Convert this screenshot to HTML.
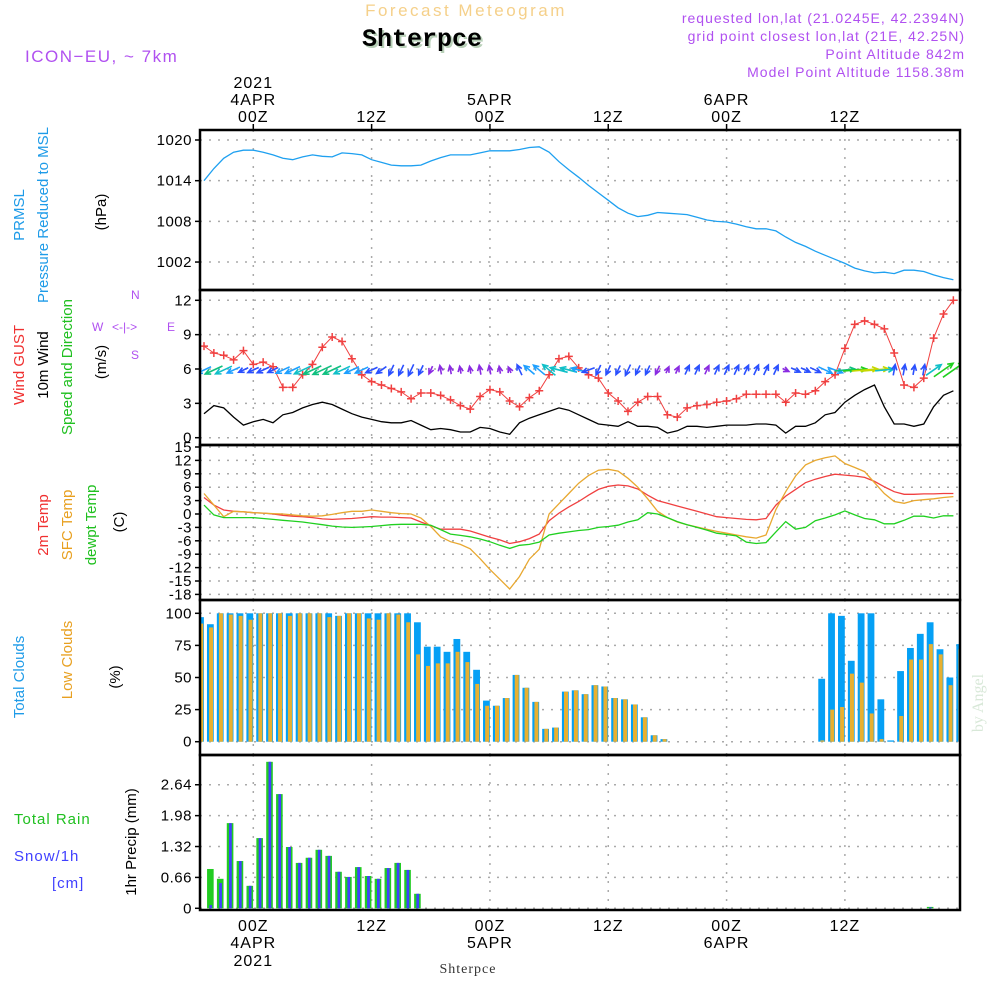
<!DOCTYPE html>
<html><head><meta charset="utf-8"><style>
body{margin:0;background:#fff;}
svg{display:block;font-family:"Liberation Sans",sans-serif;}
</style></head><body>
<svg id="chart" width="1000" height="1000" viewBox="0 0 1000 1000" xmlns="http://www.w3.org/2000/svg">
<g>
<text x="466" y="16" text-anchor="middle" font-size="17" fill="#f5d08a" letter-spacing="2.5">Forecast Meteogram</text>
<text x="424" y="48" text-anchor="middle" font-size="25" font-weight="bold" font-family="Liberation Mono,monospace" fill="#b8d0b8">Shterpce</text>
<text x="422" y="46" text-anchor="middle" font-size="25" font-weight="bold" font-family="Liberation Mono,monospace" fill="#000">Shterpce</text>
<text x="25" y="62" font-size="17" fill="#b050f0" letter-spacing="1.5">ICON−EU, ~ 7km</text>
<text x="965" y="23" text-anchor="end" font-size="14" fill="#b050f0" letter-spacing="1">requested lon,lat (21.0245E, 42.2394N)</text>
<text x="965" y="41" text-anchor="end" font-size="14" fill="#b050f0" letter-spacing="1">grid point closest lon,lat (21E, 42.25N)</text>
<text x="965" y="59" text-anchor="end" font-size="14" fill="#b050f0" letter-spacing="1">Point Altitude 842m</text>
<text x="965" y="77" text-anchor="end" font-size="14" fill="#b050f0" letter-spacing="1">Model Point Altitude 1158.38m</text>
</g>
<g font-size="15">
<text transform="translate(24,215) rotate(-90)" text-anchor="middle" fill="#1e9be8">PRMSL</text>
<text transform="translate(48,215) rotate(-90)" text-anchor="middle" fill="#1e9be8">Pressure Reduced to MSL</text>
<text transform="translate(106,212) rotate(-90)" text-anchor="middle" fill="#000">(hPa)</text>
<text transform="translate(24,365) rotate(-90)" text-anchor="middle" fill="#f03030">Wind GUST</text>
<text transform="translate(48,365) rotate(-90)" text-anchor="middle" fill="#000">10m Wind</text>
<text transform="translate(72,367) rotate(-90)" text-anchor="middle" fill="#20c020">Speed and Direction</text>
<text transform="translate(106,362) rotate(-90)" text-anchor="middle" fill="#000">(m/s)</text>
<g fill="#b050f0" font-size="12">
<text x="131" y="299">N</text>
<text x="92" y="331">W</text>
<text x="112" y="331">&lt;-|-&gt;</text>
<text x="167" y="331">E</text>
<text x="131" y="359">S</text>
</g>
<text transform="translate(48,525) rotate(-90)" text-anchor="middle" fill="#f03030">2m Temp</text>
<text transform="translate(72,525) rotate(-90)" text-anchor="middle" fill="#e8a020">SFC Temp</text>
<text transform="translate(96,525) rotate(-90)" text-anchor="middle" fill="#20c020">dewpt Temp</text>
<text transform="translate(124,522) rotate(-90)" text-anchor="middle" fill="#000">(C)</text>
<text transform="translate(24,677) rotate(-90)" text-anchor="middle" fill="#1e9be8">Total Clouds</text>
<text transform="translate(72,660) rotate(-90)" text-anchor="middle" fill="#e8a020">Low Clouds</text>
<text transform="translate(120,677) rotate(-90)" text-anchor="middle" fill="#000">(%)</text>
<text x="14" y="824" fill="#20c020" letter-spacing="1">Total  Rain</text>
<text x="14" y="861" fill="#4040ff" letter-spacing="1">Snow/1h</text>
<text x="52" y="888" fill="#4040ff" letter-spacing="1">[cm]</text>
<text transform="translate(136,842) rotate(-90)" text-anchor="middle" fill="#000">1hr Precip (mm)</text>
<text transform="translate(983,703) rotate(-90)" text-anchor="middle" fill="#d8e8d8" font-size="16" font-family="Liberation Serif,serif">by Angel</text>
</g>
<g id="plot"></g>
</svg>
<script>
const hours = []; for (let h = -5; h <= 71; h++) hours.push(h);
const pressure = [1014.0,1015.8,1017.3,1018.2,1018.5,1018.5,1018.2,1017.8,1017.3,1017.1,1017.5,1017.8,1017.6,1017.5,1018.1,1018.0,1017.8,1017.1,1016.7,1016.3,1016.2,1016.2,1016.3,1016.9,1017.4,1017.8,1017.8,1017.8,1018.1,1018.4,1018.4,1018.4,1018.6,1018.9,1019.0,1018.2,1016.8,1015.6,1014.5,1013.3,1012.2,1011.1,1010.0,1009.2,1008.7,1008.9,1009.3,1009.2,1009.1,1009.0,1008.6,1008.2,1008.0,1007.9,1007.6,1007.2,1006.9,1006.9,1006.6,1005.7,1004.9,1004.3,1003.6,1003.0,1002.4,1001.8,1001.1,1000.7,1000.4,1000.5,1000.3,1000.8,1000.8,1000.6,1000.1,999.7,999.4];
const gust = [8.0,7.4,7.2,6.8,7.6,6.4,6.6,6.2,4.4,4.4,5.5,6.4,7.9,8.8,8.4,6.9,5.5,4.9,4.6,4.3,4.0,3.4,3.9,3.9,3.7,3.3,2.8,2.5,3.6,4.2,4.0,3.2,2.7,3.5,4.1,5.5,6.9,7.1,6.1,5.5,5.2,3.9,3.2,2.3,3.1,3.6,3.6,2.0,1.8,2.6,2.8,2.9,3.1,3.2,3.4,3.8,3.8,3.8,3.8,3.1,3.9,3.8,4.1,4.9,5.5,7.8,9.9,10.2,9.9,9.5,7.4,4.6,4.4,5.2,8.7,10.8,12.0];
const wind10 = [2.1,2.8,2.6,1.8,1.1,1.4,1.6,1.3,2.0,2.2,2.6,2.9,3.1,2.9,2.5,2.1,1.8,1.6,1.4,1.3,1.3,1.5,1.1,0.7,0.8,0.7,0.5,0.5,0.9,0.8,0.5,0.3,1.3,1.7,2.0,2.3,2.6,2.4,2.0,1.6,1.2,1.1,1.0,1.4,1.0,1.0,0.9,0.4,0.6,1.0,1.0,0.9,1.0,1.1,1.1,1.1,1.2,1.2,1.1,0.4,1.0,1.0,1.3,2.0,2.2,3.1,3.7,4.2,4.6,2.7,1.2,1.2,1.0,1.2,2.7,3.7,4.1];
const windDir = [205,205,205,205,205,205,205,205,205,205,205,205,205,205,205,205,205,205,215,245,245,245,245,245,100,100,100,100,100,100,100,115,115,140,140,140,165,165,165,200,245,245,245,245,245,245,245,65,65,65,65,65,65,65,65,65,65,65,65,335,335,335,335,335,340,5,5,5,5,5,80,80,80,80,35,35,35];
const temp2m = [3.7,2.0,0.9,0.6,0.5,0.3,0.2,0,-0.3,-0.5,-0.6,-0.8,-1.1,-1.2,-1.1,-1.0,-0.8,-0.6,-0.7,-0.7,-0.8,-0.9,-1.8,-2.6,-3.4,-3.4,-3.4,-3.8,-4.5,-5.2,-5.8,-6.6,-6.2,-5.5,-4.5,-1.5,0.2,1.6,2.8,4.2,5.5,6.2,6.5,6.3,5.6,4.2,3.0,2.4,1.8,1.2,0.6,0,-0.6,-0.8,-1.0,-1.2,-1.3,-1.0,2.0,4.0,5.5,7.0,7.8,8.4,8.9,8.7,8.5,8.2,7.3,6.1,5.0,4.4,4.4,4.5,4.5,4.6,4.6];
const tempSfc = [4.6,2.0,-0.6,0.6,0.5,0.3,0.2,0.1,0,-0.2,-0.4,-0.5,-0.4,-0.1,0.3,0.6,0.6,0.9,0.6,0.3,0.1,0,-0.9,-2.8,-5.1,-6.2,-6.8,-7.8,-10,-12.4,-14.6,-16.8,-14,-10.1,-7.9,0,2.3,4.6,6.9,8.6,9.8,10,9.6,8.0,6.0,3.4,0.6,-0.8,-1.8,-2.4,-2.9,-3.4,-3.9,-4.3,-4.7,-5.1,-5.4,-4.7,1,5,8.5,11,12,12.6,13,11.3,10.4,9.5,7,4.6,2.8,2.4,3.0,3.2,3.4,3.7,3.9];
const dewpt = [2,-0.2,-0.8,-0.8,-0.8,-0.8,-1.0,-1.2,-1.4,-1.6,-1.8,-2.1,-2.4,-2.7,-2.9,-3.0,-2.9,-2.8,-2.6,-2.4,-2.3,-2.3,-2.3,-2.5,-3.5,-4.5,-4.8,-5.1,-5.6,-6.2,-7.0,-7.7,-7.0,-6.8,-6.3,-4.7,-4.3,-4.0,-3.7,-3.5,-3.0,-2.8,-2.5,-1.8,-1.3,0.3,0,-0.8,-1.7,-2.4,-3.0,-3.6,-4.3,-4.6,-4.9,-6.3,-6.6,-6.4,-4.0,-1.7,-3.4,-3.0,-1.5,-0.9,-0.2,0.7,-0.2,-1.0,-1.3,-2.2,-2.2,-1.4,-0.5,-0.5,-0.9,-0.4,-0.4];
const cloudHours = []; for (let h = -5; h <= 72; h++) cloudHours.push(h);
const totalClouds = [97,91.5,100,100,100,100,100,100,100,100,100,100,100,100,98,100,100,100,100,100,100,100,93,74,74,70,80,70,56,32,28,34,52,42,31,10,11,39,40,37,44,43,34,33,29,19,5,2,0,0,0,0,0,0,0,0,0,0,0,0,0,0,0,49,100,98,63,100,100,33,1,55,73,84,93,72,50,76];
const lowClouds = [92,89,100,99,98,95,100,100,100,98,100,100,100,97,98,100,100,96,95,100,99,93,68,59,61,61,70,62,45,28,28,34,52,42,31,10,11,39,40,37,44,43,34,33,29,19,5,2,0,0,0,0,0,0,0,0,0,0,0,0,0,0,0,1,25,27,53,46,22,2,0,20,64,64,76,68,44,72];
const precipHours = [-4,-3,-2,-1,0,1,2,3,4,5,6,7,8,9,10,11,12,13,14,15,16,17,69];
const rain = [0.84,0.63,1.82,1.01,0.48,1.50,3.13,2.44,1.31,0.97,1.08,1.25,1.12,0.78,0.67,0.88,0.69,0.63,0.86,0.97,0.82,0.31,0.03];
const snow = [0.07,0.54,1.82,1.01,0.48,1.50,3.13,2.44,1.31,0.97,1.08,1.25,1.12,0.78,0.67,0.88,0.69,0.63,0.86,0.97,0.82,0.31,0.02];
const pTicks = [1020,1014,1008,1002];
const wTicks = [12,9,6,3,0];
const tTicks = [15,12,9,6,3,0,-3,-6,-9,-12,-15,-18];
const cTicks = [100,75,50,25,0];
const rTicks = [2.64,1.98,1.32,0.66,0];
const timeTicks = [0,12,24,36,48,60];
const timeLabels = ["00Z","12Z","00Z","12Z","00Z","12Z"];
const dateLabels = ["4APR","","5APR","","6APR",""];

const NS = "http://www.w3.org/2000/svg";
const plot = document.getElementById("plot");
const X0 = 200, X1 = 960;
function xh(h){ return 253.3 + 9.86*h; }
function yP(p){ return 140 + (1020-p)*6.78; }
function yW(v){ return 437.7 - v*11.45; }
function yT(t){ return 514 - t*4.467; }
function yC(c){ return 741.7 - c*1.284; }
function yR(r){ return 908.3 - r*46.8; }
function mk(tag, attrs, parent){ const e = document.createElementNS(NS, tag); for (const k in attrs) e.setAttribute(k, attrs[k]); (parent||plot).appendChild(e); return e; }

const panels = [
  {top:130,bot:290,ticks:pTicks,f:yP,fmt:v=>String(v),name:"pressure"},
  {top:290,bot:445,ticks:wTicks,f:yW,fmt:v=>String(v),name:"wind"},
  {top:445,bot:600,ticks:tTicks,f:yT,fmt:v=>String(v),name:"temp"},
  {top:600,bot:755,ticks:cTicks,f:yC,fmt:v=>String(v),name:"clouds"},
  {top:755,bot:910,ticks:rTicks,f:yR,fmt:v=>v===0?"0":v.toFixed(2),name:"precip"}
];
const defs = mk("defs", {});
panels.forEach((p,i)=>{
  const cp = mk("clipPath", {id:"clip"+i}, defs);
  mk("rect", {x:X0, y:p.top, width:X1-X0, height:p.bot-p.top}, cp);
  const g = mk("g", {});
  
  
  p.g = g;
  p.ticks.forEach(t=>{
    const y = p.f(t);
    const gl = mk("line", {x1:X0, x2:X1, y1:y, y2:y, stroke:"#aaa", "stroke-width":1.5, "stroke-dasharray":"2,7"}, g);
    
    
    const tk = mk("line", {x1:X0-5, x2:X0, y1:y, y2:y, stroke:"#000", "stroke-width":1.5}, g);
    
    
    const tl = mk("text", {x:X0-8, y:y+5, "text-anchor":"end", "font-size":15, fill:"#000", "letter-spacing":"0.5"}, g);
    tl.textContent = p.fmt(t);
    
    
  });
  timeTicks.forEach(h=>{
    const gl = mk("line", {x1:xh(h), x2:xh(h), y1:p.top, y2:p.bot, stroke:"#aaa", "stroke-width":1.5, "stroke-dasharray":"2,7"}, g);
    
    
  });
  p.dg = mk("g", {"clip-path":"url(#clip"+i+")"}, g);
});
function linePath(hs, vals, f){ return hs.map((h,i)=>(i?"L":"M")+xh(h).toFixed(1)+","+f(vals[i]).toFixed(1)).join(""); }

// pressure
let e = mk("path", {d:linePath(hours,pressure,yP), fill:"none", stroke:"#1ea0f0", "stroke-width":1.3}, panels[0].dg);



// wind
e = mk("path", {d:linePath(hours,wind10,yW), fill:"none", stroke:"#000", "stroke-width":1.3}, panels[1].dg);


e = mk("path", {d:linePath(hours,gust,yW), fill:"none", stroke:"#f04040", "stroke-width":1}, panels[1].dg);


hours.forEach((h,i)=>{
  const x = xh(h), y = yW(gust[i]);
  const m = mk("path", {d:`M${x-4},${y}H${x+4}M${x},${y-4}V${y+4}`, stroke:"#f04040", "stroke-width":1.5}, panels[1].dg);
  
  
});
function windColor(s){ if(s<1) return "#8a2be2"; if(s<1.7) return "#2a50ff"; if(s<2.3) return "#1ea0ff"; if(s<2.8) return "#10c0c8"; if(s<3.5) return "#10c080"; if(s<4.2) return "#20d020"; return "#c8d800"; }
hours.forEach((h,i)=>{
  const s = wind10[i], L = 5 + s*5, a = windDir[i]*Math.PI/180;
  const dx = Math.cos(a)*L, dy = -Math.sin(a)*L;
  const x0 = xh(h) - dx/2, y0 = 370 - dy/2, x1 = x0+dx, y1 = y0+dy;
  const ang = Math.atan2(dy,dx), hl = 6;
  const hx1 = x1 - hl*Math.cos(ang-0.45), hy1 = y1 - hl*Math.sin(ang-0.45);
  const hx2 = x1 - hl*Math.cos(ang+0.45), hy2 = y1 - hl*Math.sin(ang+0.45);
  const ar = mk("path", {d:`M${x0},${y0}L${x1},${y1}M${hx1},${hy1}L${x1},${y1}L${hx2},${hy2}`, stroke:windColor(s), fill:"none", "stroke-width":1.6}, panels[1].dg);
  
  
});

// temperature
[[temp2m,"#f04040","temp-2m-line"],[tempSfc,"#e8a830","temp-sfc-line"],[dewpt,"#20d020","dewpt-line"]].forEach(([vals,col,nm])=>{
  const l = mk("path", {d:linePath(hours,vals,yT), fill:"none", stroke:col, "stroke-width":1.3}, panels[2].dg);
  
  
});

// clouds
cloudHours.forEach((h,i)=>{
  const c = xh(h) - 3.5;
  const b = mk("rect", {x:c-3.4, y:yC(totalClouds[i]), width:6.8, height:Math.max(0,yC(0)-yC(totalClouds[i])), fill:"#05a0f5"}, panels[3].dg);
  
  
  const o = mk("rect", {x:c-1.3, y:yC(lowClouds[i]), width:4, height:Math.max(0,yC(0)-yC(lowClouds[i])), fill:"#e8b030"}, panels[3].dg);
  
  
});

// precip
precipHours.forEach((h,i)=>{
  const c = xh(h) - 3.5;
  const g = mk("rect", {x:c-3.3, y:yR(rain[i]), width:6.6, height:yR(0)-yR(rain[i]), fill:"#22cc22"}, panels[4].dg);
  
  
  const s = mk("rect", {x:c-1, y:yR(snow[i]), width:2.7, height:yR(0)-yR(snow[i]), fill:"#4040ff"}, panels[4].dg);
  
  
});

// frames
panels.forEach(p=>{
  const r = mk("rect", {x:X0, y:p.top, width:X1-X0, height:p.bot-p.top, fill:"none", stroke:"#000", "stroke-width":2.5}, p.g);
  
  
});

// time axes
timeTicks.forEach((h,i)=>{
  const x = xh(h);
  const t1 = mk("line", {x1:x, x2:x, y1:124, y2:130, stroke:"#000", "stroke-width":1.5});
  
  
  const lt = mk("text", {x:x, y:122, "text-anchor":"middle", "font-size":16, fill:"#000", "letter-spacing":"1"});
  lt.textContent = timeLabels[i];
  
  
  const lb = mk("text", {x:x, y:931, "text-anchor":"middle", "font-size":16, fill:"#000", "letter-spacing":"1"});
  lb.textContent = timeLabels[i];
  
  
  if (dateLabels[i]) {
    const dt = mk("text", {x:x, y:105, "text-anchor":"middle", "font-size":16, fill:"#000", "letter-spacing":"1"});
    dt.textContent = dateLabels[i];
    
    
    const db = mk("text", {x:x, y:948, "text-anchor":"middle", "font-size":16, fill:"#000", "letter-spacing":"1"});
    db.textContent = dateLabels[i];
    
    
  }
});
e = mk("text", {x:xh(0), y:88, "text-anchor":"middle", "font-size":16, fill:"#000", "letter-spacing":"1"});
e.textContent = "2021";


e = mk("text", {x:xh(0), y:966, "text-anchor":"middle", "font-size":16, fill:"#000", "letter-spacing":"1"});
e.textContent = "2021";


e = mk("text", {x:468, y:973, "text-anchor":"middle", "font-size":14, fill:"#333", "font-family":"Liberation Serif,serif", "letter-spacing":"1"});
e.textContent = "Shterpce";


</script>
</body></html>
